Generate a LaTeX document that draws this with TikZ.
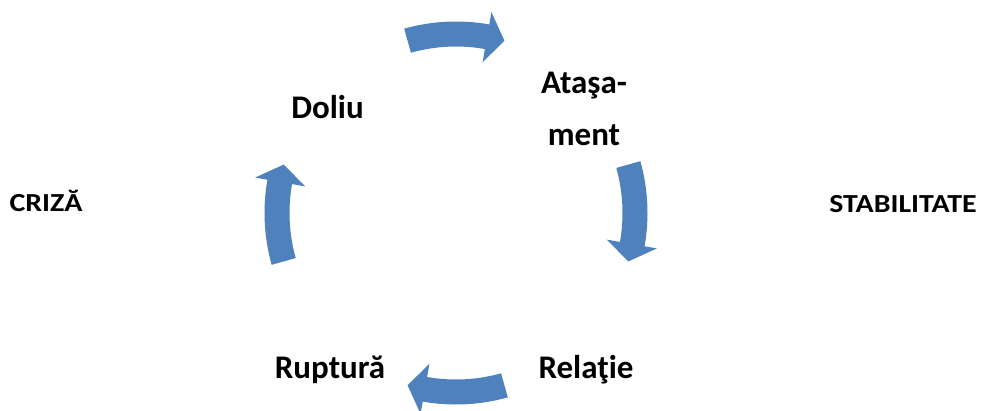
\documentclass[tikz,border=0pt]{standalone}
\usepackage{fontspec}
\setmainfont{Carlito}
\newfontfamily\sidefont[FakeStretch=1.15]{Carlito}
\definecolor{arrowblue}{HTML}{4F81BD}
\tikzset{
  lbl/.style={font=\bfseries\fontsize{33}{52}\selectfont, inner sep=0pt, anchor=base, align=center},
  side/.style={font=\sidefont\bfseries\fontsize{26}{30}\selectfont, inner sep=0pt, anchor=base},
  cyclearrow/.style={fill=arrowblue, draw=none}
}
\newcommand{\cyclearr}[1]{%
  \fill[cyclearrow] (#1+15.7:191.5) arc[start angle=#1+15.7, end angle=#1-10, radius=191.5]
    -- (#1-10:204) -- (#1-15.7:179) -- (#1-10:153) -- (#1-10:166.5)
    arc[start angle=#1-10, end angle=#1+15.7, radius=166.5] -- cycle;}
\begin{document}
\begin{tikzpicture}[x=1pt,y=-1pt]
\useasboundingbox (0,0) rectangle (981,410);
\coordinate (c) at (456,213);
\begin{scope}[shift={(c)}, yscale=-1]
  \cyclearr{90}
  \cyclearr{0}
  \cyclearr{-90}
  \cyclearr{180}
\end{scope}
\node[lbl] (doliu) at (327.5,118) {Doliu};
\node[lbl] (atas) at (584,145) {Ataşa-\\ment};
\node[lbl] (rel) at (586,378) {Relaţie};
\node[lbl] (rup) at (330,378) {Ruptură};
\node[side] (criza) at (46,211) {CRIZĂ};
\node[side] (stab) at (903,212) {STABILITATE};
\end{tikzpicture}
\end{document}
